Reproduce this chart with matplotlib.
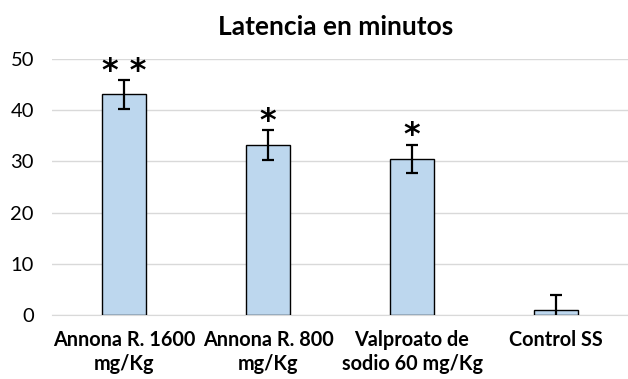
import numpy as np
import matplotlib.pyplot as plt

plt.rcParams['font.family'] = ['Lato', 'DejaVu Sans']

groups = ["Annona R. 1600\nmg/Kg", "Annona R. 800\nmg/Kg", "Valproato de\nsodio 60 mg/Kg", "Control SS"]
latency = [43.1, 33.2, 30.5, 1.0]
error = [2.8, 2.85, 2.8, 2.9]
marks = ["* *", "*", "*", ""]

fig = plt.figure(figsize=(6.28, 3.79), dpi=100)
ax = fig.add_axes([52 / 628, 64 / 379, 576 / 628, 256 / 379])

x = np.arange(len(groups))
ax.bar(x, latency, width=0.31, color='#bdd7ee', edgecolor='black', linewidth=1.0, zorder=3)
ax.errorbar(x, latency, yerr=error, fmt='none', ecolor='black', elinewidth=1.6,
            capsize=4, capthick=1.6, zorder=4)

# significance stars sit just above the error caps
for xi, v, e, m in zip(x, latency, error, marks):
    if m:
        ax.text(xi, v + e - 1.3, m, ha='center', va='bottom', fontsize=23,
                fontweight='bold', family='DejaVu Sans')

ax.set_xlim(-0.5, 3.5)
ax.set_ylim(0, 50)
ax.set_yticks(range(0, 51, 10))
ax.yaxis.grid(True, color='#d9d9d9', linewidth=1.0, zorder=0)
for s in ['top', 'right', 'left']:
    ax.spines[s].set_visible(False)
ax.spines['bottom'].set_color('#d9d9d9')
ax.tick_params(axis='both', length=0, colors='black')
ax.tick_params(axis='y', pad=13, labelsize=14.5)
ax.set_xticks(x)
ax.set_xticklabels(groups, fontweight='bold', fontsize=14.3, linespacing=1.25)
ax.tick_params(axis='x', pad=11)

fig.text(336 / 628, 1 - 27 / 379, "Latencia en minutos", ha='center', va='center',
         fontsize=19, fontweight='bold')

fig.savefig("out.png", dpi=100)
